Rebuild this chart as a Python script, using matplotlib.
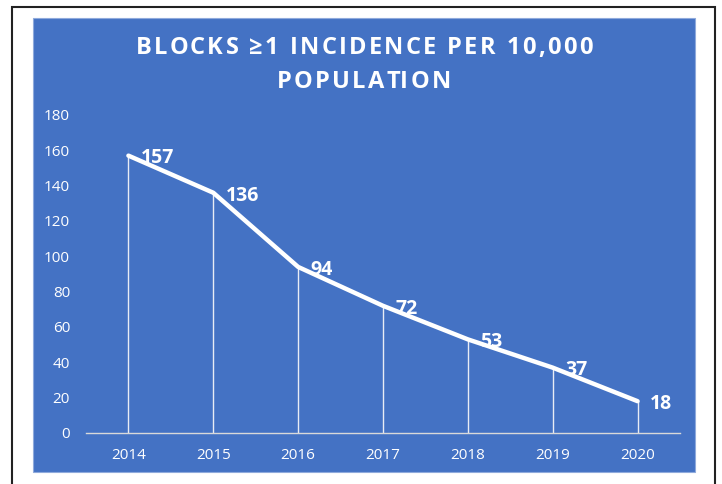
#!/usr/bin/env python3
"""Line chart: blocks >=1 incidence per 10,000 population, 2014-2020."""
import matplotlib

matplotlib.use("Agg")
import matplotlib.pyplot as plt
from matplotlib.font_manager import FontProperties
from matplotlib.patches import Rectangle

years = ["2014", "2015", "2016", "2017", "2018", "2019", "2020"]
incidence = [157, 136, 94, 72, 53, 37, 18]
yticks = [0, 20, 40, 60, 80, 100, 120, 140, 160, 180]
title_lines = ["BLOCKS ≥1 INCIDENCE PER 10,000", "POPULATION"]

BLUE = "#4472C4"
W, H = 722, 484

plt.rcParams["font.family"] = ["Open Sans", "DejaVu Sans"]

fig = plt.figure(figsize=(W / 100, H / 100), dpi=100)
fig.patch.set_facecolor("white")

# outer dark frame and blue panel (figure pixel coords -> fractions)
fig.patches.append(Rectangle((12 / W, -0.1), (715 - 12) / W, 1.1 - 7 / H,
                             transform=fig.transFigure, fill=False,
                             edgecolor="#222222", linewidth=1.5, zorder=-2))
fig.patches.append(Rectangle((33 / W, 1 - 472 / H), (695 - 33) / W,
                             (472 - 18) / H, transform=fig.transFigure,
                             facecolor=BLUE, edgecolor="#8faadc",
                             linewidth=0.8, zorder=-1))

ax = fig.add_axes([86 / W, 1 - 433 / H, (680 - 86) / W, (433 - 115) / H])
ax.set_facecolor("none")
x = list(range(len(years)))

ax.vlines(x, 0, incidence, colors="#e8ecf5", linewidth=1.0)
ax.plot(x, incidence, color="white", linewidth=3.2, solid_capstyle="round",
        solid_joinstyle="round")
for xi, v in zip(x, incidence):
    ax.annotate(str(v), (xi, v), xytext=(9, -2), textcoords="offset points",
                ha="left", va="center", color="white", fontsize=14,
                fontweight="bold")

ax.set_xlim(-0.5, len(years) - 0.5)
ax.set_ylim(0, 180)
ax.set_xticks(x, years)
ax.set_yticks(yticks)
ax.tick_params(length=0, colors="white", labelsize=11)
ax.tick_params(axis="x", pad=11)
ax.tick_params(axis="y", pad=11.5)
for s in ["top", "right", "left"]:
    ax.spines[s].set_visible(False)
ax.spines["bottom"].set_color("#d9d9d9")
ax.spines["bottom"].set_linewidth(1.0)

# title with letter tracking, drawn char by char on a shared baseline
renderer = fig.canvas.get_renderer()
fp = FontProperties(family=["Open Sans", "DejaVu Sans"], weight="bold",
                    size=17)


def text_w(s):
    return renderer.get_text_width_height_descent(s, fp, ismath=False)[0]


first = title_lines[0]
track = (457 - text_w(first)) / (len(first) - 1)  # px between letters
cx = 364
for line, base_y in zip(title_lines, [54, 88]):
    xw = text_w("x")
    pos = [text_w(line[:i] + "x") - xw for i in range(len(line))]
    total = text_w(line) + track * (len(line) - 1)
    x0 = cx - total / 2
    for i, ch in enumerate(line):
        if ch == " ":
            continue
        fig.text((x0 + pos[i] + track * i) / W, 1 - base_y / H, ch,
                 fontproperties=fp, color="white", ha="left", va="baseline")

fig.savefig("out.png", dpi=100, facecolor=fig.get_facecolor())
